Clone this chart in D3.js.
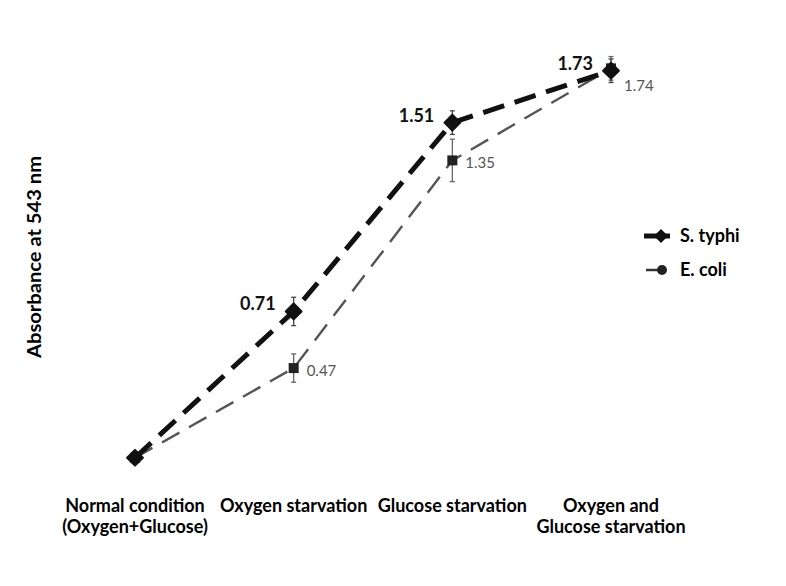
<!DOCTYPE html>
<html>
<head>
<meta charset="utf-8">
<script src="https://cdn.jsdelivr.net/npm/d3@7"></script>
<style>
  body { margin: 0; background: #fff; }
  text { font-family: Lato, "Open Sans", sans-serif; }
</style>
</head>
<body>
<div id="chart"></div>
<script>
const categories = [
  ["Normal condition", "(Oxygen+Glucose)"],
  ["Oxygen starvation"],
  ["Glucose starvation"],
  ["Oxygen and", "Glucose starvation"]
];
const typhiValues = [0.09, 0.71, 1.51, 1.73];
const typhiErrors = [0, 0.06, 0.05, 0.05];
const typhiLabels = ["", "0.71", "1.51", "1.73"];
const coliValues = [0.09, 0.47, 1.35, 1.74];
const coliErrors = [0, 0.06, 0.09, 0.05];
const coliLabels = ["", "0.47", "1.35", "1.74"];

const width = 786, height = 586;
const svg = d3.select("#chart").append("svg")
    .attr("width", width)
    .attr("height", height);

const x = d3.scalePoint()
    .domain(d3.range(categories.length))
    .range([135, 611]);
const y = d3.scaleLinear()
    .domain([0, 1.8])
    .range([479, 54.2]);

// y axis title
svg.append("text")
    .attr("transform", "translate(41,257) rotate(-90)")
    .attr("text-anchor", "middle")
    .style("font-size", "19px")
    .style("font-weight", "bold")
    .attr("textLength", 202)
    .attr("lengthAdjust", "spacingAndGlyphs")
    .text("Absorbance at 543 nm");

// category labels
categories.forEach(function(lines, i) {
  const t = svg.append("text")
      .attr("x", x(i))
      .attr("y", 512)
      .attr("text-anchor", "middle")
      .style("font-size", "18px")
      .style("font-weight", "bold");
  lines.forEach(function(l, j) {
    t.append("tspan").attr("x", x(i)).attr("dy", j ? 21 : 0).text(l);
  });
});

const line = d3.line()
    .x(function(d, i) { return x(i); })
    .y(function(d) { return y(d); });

function series(values, errors, color, w, dash, capColor) {
  svg.append("path")
      .datum(values)
      .attr("fill", "none")
      .attr("stroke", color)
      .attr("stroke-width", w)
      .attr("stroke-dasharray", dash)
      .attr("d", line);
  values.forEach(function(v, i) {
    if (!errors[i]) return;
    const g = svg.append("g").attr("stroke", capColor).attr("stroke-width", 1.3);
    g.append("line").attr("x1", x(i)).attr("x2", x(i))
        .attr("y1", y(v - errors[i])).attr("y2", y(v + errors[i]));
    [v - errors[i], v + errors[i]].forEach(function(e) {
      g.append("line").attr("x1", x(i) - 2.5).attr("x2", x(i) + 2.5)
          .attr("y1", y(e)).attr("y2", y(e));
    });
  });
}

series(coliValues, coliErrors, "#555", 2.4, "20,11", "#666");
series(typhiValues, typhiErrors, "#111", 5, "22,11", "#444");

// markers
svg.selectAll(".coliPt").data(coliValues).enter().append("rect")
    .attr("x", function(d, i) { return x(i) - 5; })
    .attr("y", function(d) { return y(d) - 5; })
    .attr("width", 10).attr("height", 10)
    .attr("fill", "#222");
svg.selectAll(".typhiPt").data(typhiValues).enter().append("path")
    .attr("transform", function(d, i) { return "translate(" + x(i) + "," + y(d) + ") rotate(45)"; })
    .attr("d", d3.symbol(d3.symbolSquare, 125))
    .attr("stroke", "#111").attr("stroke-width", 2).attr("stroke-linejoin", "round")
    .attr("fill", "#111");

// value labels
svg.selectAll(".typhiLbl").data(typhiValues).enter().append("text")
    .attr("x", function(d, i) { return x(i) - 18; })
    .attr("y", function(d) { return y(d) - 1; })
    .attr("text-anchor", "end")
    .style("font-size", "18px")
    .style("font-weight", "bold")
    .attr("fill", "#111")
    .text(function(d, i) { return typhiLabels[i]; });
svg.selectAll(".coliLbl").data(coliValues).enter().append("text")
    .attr("x", function(d, i) { return x(i) + 13; })
    .attr("y", function(d, i) { return y(d) + (i === 3 ? 23 : 8); })
    .style("font-size", "15px")
    .attr("fill", "#555")
    .text(function(d, i) { return coliLabels[i]; });

// legend
const legend = svg.append("g").attr("transform", "translate(640,236)");
legend.append("line").attr("x1", 4).attr("x2", 30).attr("y1", 0).attr("y2", 0)
    .attr("stroke", "#111").attr("stroke-width", 5);
legend.append("path").attr("transform", "translate(21,0) rotate(45)")
    .attr("d", d3.symbol(d3.symbolSquare, 100)).attr("fill", "#111");
legend.append("text").attr("x", 40).attr("y", 6)
    .style("font-size", "18px").style("font-weight", "bold").text("S. typhi");
legend.append("line").attr("x1", 6).attr("x2", 22).attr("y1", 34).attr("y2", 34)
    .attr("stroke", "#333").attr("stroke-width", 2.5);
legend.append("circle").attr("cx", 22).attr("cy", 34).attr("r", 5).attr("fill", "#222");
legend.append("text").attr("x", 40).attr("y", 40)
    .style("font-size", "18px").style("font-weight", "bold").text("E. coli");
</script>
</body>
</html>
